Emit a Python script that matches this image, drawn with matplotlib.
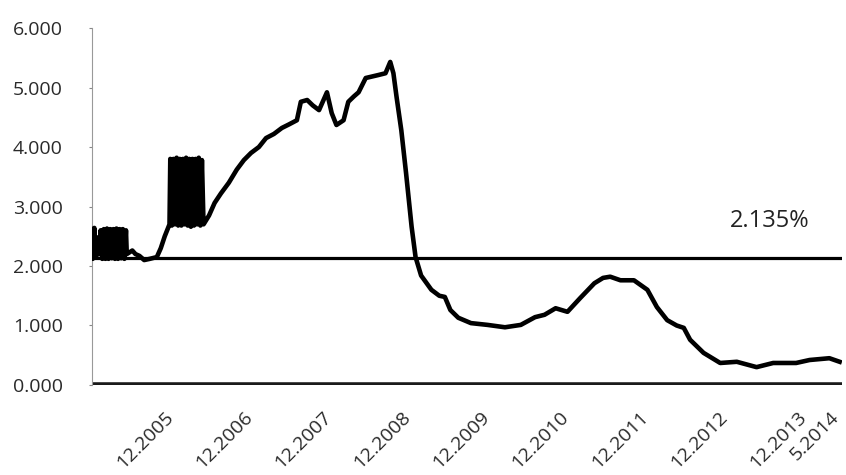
import matplotlib as mpl
import matplotlib.pyplot as plt
from matplotlib.transforms import ScaledTranslation

mpl.rcParams['font.family'] = ['Open Sans', 'DejaVu Sans']

# data: decimal year and rate (%)
years = [
    # noisy block at the start
    2004.85, 2004.86, 2004.88, 2004.90, 2004.92, 2004.94, 2004.96, 2004.98,
    2005.00, 2005.02, 2005.04, 2005.06, 2005.08, 2005.10, 2005.12, 2005.14,
    2005.16, 2005.18, 2005.20, 2005.22, 2005.24, 2005.26, 2005.28,
    2005.29, 2005.36, 2005.40, 2005.45, 2005.51, 2005.58, 2005.67, 2005.72,
    2005.77, 2005.83,
    # second noisy block
    2005.84, 2005.86, 2005.88, 2005.90, 2005.92, 2005.94, 2005.96, 2005.98,
    2006.00, 2006.02, 2006.04, 2006.06, 2006.08, 2006.10, 2006.12, 2006.14,
    2006.16, 2006.18, 2006.20, 2006.22, 2006.24, 2006.26,
    2006.27, 2006.33, 2006.40, 2006.48, 2006.58, 2006.68, 2006.77, 2006.86,
    2006.96, 2007.05, 2007.15, 2007.25, 2007.34, 2007.44, 2007.49, 2007.57,
    2007.64, 2007.72, 2007.78, 2007.82, 2007.88, 2007.94, 2008.03, 2008.09,
    2008.16, 2008.22, 2008.31, 2008.47, 2008.56, 2008.62, 2008.66, 2008.70,
    2008.76, 2008.82, 2008.89, 2008.94, 2009.01, 2009.14, 2009.24, 2009.31,
    2009.38, 2009.48, 2009.64, 2009.85, 2010.07, 2010.27, 2010.45, 2010.57,
    2010.71, 2010.86, 2011.02, 2011.20, 2011.31, 2011.40, 2011.53, 2011.70,
    2011.87, 2011.99, 2012.12, 2012.24, 2012.33, 2012.41, 2012.58, 2012.79,
    2013.00, 2013.25, 2013.46, 2013.75, 2013.92, 2014.17, 2014.30,
]
rates = [
    2.62, 2.12, 2.64, 2.15, 2.48, 2.20, 2.60, 2.12,
    2.62, 2.12, 2.63, 2.12, 2.62, 2.13, 2.62, 2.12,
    2.63, 2.12, 2.62, 2.13, 2.62, 2.12, 2.60,
    2.20, 2.26, 2.20, 2.17, 2.10, 2.12, 2.15, 2.30,
    2.50, 2.70,
    3.80, 2.68, 3.80, 2.70, 3.82, 2.68, 3.80, 2.68,
    3.80, 2.70, 3.82, 2.68, 3.80, 2.66, 3.80, 2.68,
    3.80, 2.70, 3.82, 2.68, 3.78, 2.70,
    2.72, 2.85, 3.06, 3.22, 3.40, 3.62, 3.78, 3.90,
    4.00, 4.15, 4.22, 4.32, 4.38, 4.45, 4.76, 4.79,
    4.70, 4.62, 4.80, 4.92, 4.57, 4.37, 4.45, 4.76,
    4.85, 4.92, 5.16, 5.21, 5.24, 5.43, 5.24, 4.84,
    4.28, 3.56, 2.66, 2.15, 1.84, 1.60, 1.50, 1.48,
    1.26, 1.13, 1.04, 1.01, 0.97, 1.01, 1.14, 1.18,
    1.29, 1.23, 1.46, 1.71, 1.80, 1.82, 1.76, 1.76,
    1.60, 1.31, 1.09, 1.00, 0.96, 0.76, 0.54, 0.37,
    0.39, 0.30, 0.37, 0.37, 0.42, 0.45, 0.39,
]

ref_level = 2.135
ref_label = '2.135%'

tick_years = [2005.92, 2006.92, 2007.92, 2008.92, 2009.92, 2010.92,
              2011.92, 2012.92, 2013.92, 2014.33]
tick_labels = ['12.2005', '12.2006', '12.2007', '12.2008', '12.2009',
               '12.2010', '12.2011', '12.2012', '12.2013', '5.2014']
y_ticks = [0, 1, 2, 3, 4, 5, 6]

fig = plt.figure(figsize=(8.46, 4.75), dpi=100)
ax = fig.add_axes([0.1087, 0.1895, 0.8866, 0.7515])

ax.axhline(0, color='#1a1a1a', linewidth=4.0, zorder=1)
ax.axhline(ref_level, color='black', linewidth=2.3, zorder=2)
ax.plot(years, rates, color='black', linewidth=3.3, zorder=3,
        solid_joinstyle='round')

ax.text(2013.41, ref_level + 0.62, ref_label, fontsize=17, ha='center',
        va='center', color='#222222')

ax.set_xlim(2004.85, 2014.33)
ax.set_ylim(0, 6)
ax.set_yticks(y_ticks)
ax.set_yticklabels(['%.3f' % v for v in y_ticks])
ax.set_xticks(tick_years)
ax.set_xticklabels(tick_labels, rotation=45, ha='right', va='center',
                   rotation_mode='anchor')

ax.tick_params(axis='y', labelsize=14, length=2, width=0.8,
               color='#888888', pad=19, labelcolor='#2a2a2a')
ax.tick_params(axis='x', labelsize=14, length=0, pad=21,
               labelcolor='#2a2a2a')

# nudge the slanted labels a little to the left, as in the original
shift = ScaledTranslation(-6 / 100, 0, fig.dpi_scale_trans)
for lab in ax.get_xticklabels():
    lab.set_transform(lab.get_transform() + shift)

for side in ['top', 'right', 'bottom']:
    ax.spines[side].set_visible(False)
ax.spines['left'].set_color('#999999')
ax.spines['left'].set_linewidth(0.8)

fig.savefig('out.png', dpi=100)
